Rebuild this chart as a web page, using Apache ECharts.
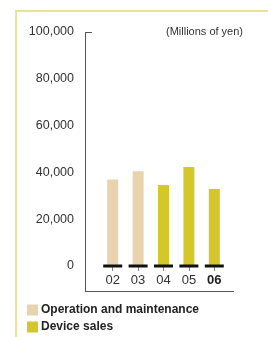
<!DOCTYPE html>
<html><head><meta charset="utf-8">
<script src="https://cdn.jsdelivr.net/npm/echarts@6/dist/echarts.min.js"></script>
<style>html,body{margin:0;padding:0;background:#fff}#c{width:268px;height:337px}</style>
</head><body><div id="c"></div>
<script>
var categories = ['02', '03', '04', '05', '06'];
var operationMaintenance = [37000, 40500, '-', '-', '-'];
var deviceSales = ['-', '-', 34600, 42300, 32900];
var baseMarks = [0, 0, 0, 0, 0];
var yTicks = [0, 20000, 40000, 60000, 80000, 100000];

var chart = echarts.init(document.getElementById('c'), null, {renderer: 'canvas'});
var lf = 'Liberation Sans, Arial, sans-serif';
var legendText = {fontFamily: lf, fontSize: 12, fontWeight: 'bold', color: '#222', padding: [0, 0, 0, -2]};
chart.setOption({
  animation: false,
  grid: {left: 100, right: 41, top: 32, bottom: 71},
  xAxis: {
    type: 'category', data: categories,
    axisLine: {show: false},
    axisTick: {show: true, alignWithLabel: true, length: 5, lineStyle: {color: '#888'}},
    axisLabel: {
      interval: 0, margin: 8, fontFamily: lf, fontSize: 13, color: '#333',
      formatter: function (v) { return v === '06' ? '{b|' + v + '}' : v; },
      rich: {b: {fontWeight: 'bold', fontSize: 13, color: '#222', fontFamily: lf}}
    }
  },
  yAxis: {
    type: 'value', min: yTicks[0], max: yTicks[yTicks.length - 1], interval: 20000,
    axisLine: {show: false}, axisTick: {show: false}, splitLine: {show: false},
    axisLabel: {
      margin: 26, fontFamily: lf, fontSize: 12.5, color: '#333',
      formatter: function (v) { return v.toLocaleString('en-US'); }
    }
  },
  legend: [
    {left: 27, top: 304, padding: 0, itemWidth: 11, itemHeight: 11, icon: 'rect',
     data: ['Operation and maintenance'], textStyle: legendText},
    {left: 27, top: 321, padding: 0, itemWidth: 11, itemHeight: 11, icon: 'rect',
     data: ['Device sales'], textStyle: legendText}
  ],
  graphic: [
    {type: 'line', shape: {x1: 16, y1: 11, x2: 268, y2: 11}, style: {stroke: '#ece19b', lineWidth: 2}},
    {type: 'line', shape: {x1: 16, y1: 10, x2: 16, y2: 337}, style: {stroke: '#ece19b', lineWidth: 2}},
    {type: 'line', shape: {x1: 85.5, y1: 33, x2: 85.5, y2: 291}, style: {stroke: '#555', lineWidth: 1}},
    {type: 'line', shape: {x1: 85, y1: 32.5, x2: 92, y2: 32.5}, style: {stroke: '#555', lineWidth: 1}},
    {type: 'line', shape: {x1: 85, y1: 291.5, x2: 234, y2: 291.5}, style: {stroke: '#555', lineWidth: 1}},
    {type: 'text', left: 166, top: 26, style: {text: '(Millions of yen)', font: '11px Liberation Sans, Arial, sans-serif', fill: '#333'}}
  ],
  series: [
    {name: 'Operation and maintenance', type: 'bar', stack: 's', barWidth: 11, data: operationMaintenance, itemStyle: {color: '#e8d3ae'}},
    {name: 'Device sales', type: 'bar', stack: 's', barWidth: 11, data: deviceSales, itemStyle: {color: '#d5c62a'}},
    {name: 'base', type: 'scatter', data: baseMarks, symbol: 'rect', symbolSize: [19, 3], itemStyle: {color: '#111', opacity: 1}, z: 5}
  ]
});
</script></body></html>
